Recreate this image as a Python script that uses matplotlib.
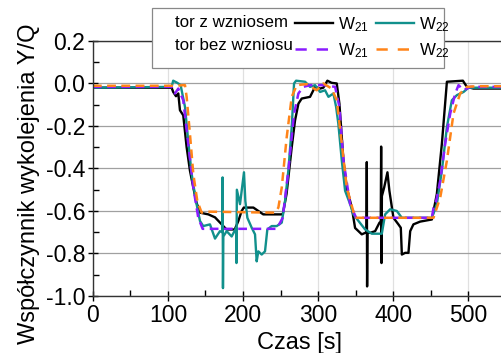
import matplotlib
matplotlib.use("Agg")
import matplotlib.pyplot as plt
from matplotlib.lines import Line2D
from matplotlib.patches import Rectangle
from matplotlib.ticker import MultipleLocator

plt.rcParams['font.family'] = ['Liberation Sans', 'DejaVu Sans']
plt.rcParams['mathtext.fontset'] = 'custom'
plt.rcParams['mathtext.rm'] = 'Liberation Sans'
plt.rcParams['mathtext.it'] = 'Liberation Sans:italic'

# tor z wzniosem, W21 (black)
w21_x = [0, 104.9, 107, 110.7, 113.8, 116, 120.4, 124.9, 129.3, 133.8, 138, 142.7, 153.8, 162.7,
         171.6, 178, 189, 193.8, 198.2, 201, 213.8, 220.4, 227, 252.9, 258, 264.9, 269.3, 273.8,
         278.2, 289.3, 296, 302.7, 307, 312.4, 318, 324.9, 328.4, 333.8, 338.2, 344.9, 349.3,
         353.8, 358.2, 362.7, 364.5, 364.9, 365.3, 365.8, 369.3, 376, 381.8, 383.5, 384, 384.5,
         385, 388, 392.4, 395, 400.4, 407, 410.2, 411.6, 416, 420.4, 422.7, 427, 436, 451.6,
         458.2, 464.9, 471.6, 492.9, 498.2, 507, 545]
w21_y = [-0.02, -0.02, -0.04, -0.06, -0.047, -0.126, -0.15, -0.30, -0.41, -0.49, -0.56, -0.608,
         -0.616, -0.63, -0.663, -0.687, -0.687, -0.647, -0.60, -0.584, -0.584, -0.60, -0.616,
         -0.616, -0.52, -0.30, -0.174, -0.095, -0.071, -0.063, -0.016, -0.024, -0.02, 0.013,
         0.003, 0.0, -0.095, -0.363, -0.49, -0.584, -0.68, -0.695, -0.71, -0.703, -0.70, -0.37,
         -0.955, -0.70, -0.703, -0.695, -0.655, -0.65, -0.297, -0.845, -0.53, -0.49, -0.418,
         -0.505, -0.632, -0.663, -0.679, -0.805, -0.797, -0.797, -0.695, -0.663, -0.65, -0.64,
         -0.52, -0.284, 0.008, 0.013, -0.016, -0.024, -0.024]

# tor z wzniosem, W22 (teal)
w22_x = [0, 104.9, 107, 112.4, 116.9, 122.7, 127, 131.6, 137.3, 142.7, 147, 156, 162.7, 169.3,
         172.4, 172.8, 173.3, 173.8, 178.2, 184.9, 190.8, 191.3, 191.8, 196, 201.3, 203.1, 205.8,
         211.6, 216, 218.2, 220.4, 224.9, 229.3, 232.4, 238.2, 244.9, 251.6, 256, 260.4, 264.9,
         268, 270.7, 282.7, 289.3, 296, 302.7, 309.3, 313.8, 320.4, 324, 327, 331.6, 336, 342.7,
         347, 353.8, 362.7, 371.6, 384.9, 389.3, 396, 404.9, 411.6, 451.6, 458.2, 464.9, 471.6,
         478.2, 484.9, 493.8, 500.4, 545]
w22_y = [-0.02, -0.016, 0.013, 0.003, -0.008, -0.11, -0.27, -0.426, -0.553, -0.647, -0.671,
         -0.663, -0.73, -0.695, -0.70, -0.442, -0.963, -0.72, -0.695, -0.72, -0.68, -0.845,
         -0.50, -0.568, -0.418, -0.553, -0.632, -0.679, -0.71, -0.837, -0.79, -0.805, -0.79,
         -0.687, -0.671, -0.671, -0.655, -0.553, -0.41, -0.205, 0.0, 0.013, 0.008, -0.016,
         -0.008, -0.04, -0.032, -0.063, -0.047, -0.11, -0.19, -0.363, -0.505, -0.568, -0.616,
         -0.647, -0.687, -0.707, -0.707, -0.616, -0.592, -0.60, -0.632, -0.632, -0.568, -0.41,
         -0.205, -0.079, -0.055, -0.04, -0.02, -0.02]

# tor bez wzniosu, W21 (purple dashed)
b21_x = [0, 104.9, 109.3, 113.8, 120.4, 127, 133.8, 140.4, 146.2, 244.9, 252.9, 260.4, 268,
         273.8, 280.4, 289.3, 307, 322.7, 328.4, 333.8, 342.7, 350.7, 451.6, 453.8, 457.3,
         462.7, 469.3, 476, 482.7, 487.1, 493.8, 502.7, 545]
b21_y = [-0.016, -0.016, -0.047, -0.024, -0.079, -0.284, -0.49, -0.632, -0.684, -0.684,
         -0.632, -0.41, -0.142, -0.047, -0.016, -0.008, -0.008, -0.016, -0.11, -0.363, -0.568,
         -0.632, -0.632, -0.584, -0.553, -0.458, -0.284, -0.142, -0.047, -0.008, -0.032,
         -0.016, -0.016]

# tor bez wzniosu, W22 (orange dashed)
b22_x = [0, 104.9, 122.7, 124.9, 129.3, 133.8, 139.1, 144.9, 149.3, 242.7, 247.1, 251.6,
         258.2, 264.9, 271.6, 284.9, 298.2, 307, 318, 324.9, 331.6, 338.2, 349.3, 453.8,
         462.7, 471.6, 480.4, 489.3, 498.2, 511.6, 545]
b22_y = [-0.011, -0.011, -0.008, -0.063, -0.237, -0.426, -0.553, -0.608, -0.603, -0.608,
         -0.584, -0.49, -0.253, -0.063, -0.008, -0.003, -0.032, 0.0, -0.024, -0.079, -0.284,
         -0.49, -0.632, -0.632, -0.537, -0.363, -0.142, -0.047, -0.016, -0.013, -0.013]

row_titles = ['tor z wzniosem', 'tor bez wzniosu']
series_labels = ['W$_{21}$', 'W$_{21}$', 'W$_{22}$', 'W$_{22}$']

black = 'black'
teal = '#11908c'
purple = '#8a1cff'
orange = '#ff8419'
dash = (0, (3.5, 2.2))

fig = plt.figure(figsize=(5.02, 3.53), dpi=100)
ax = fig.add_axes([0.185, 0.1615, 0.815, 0.7225])

ax.plot(w21_x, w21_y, color=black, lw=1.7)
ax.plot(w22_x, w22_y, color=teal, lw=1.7)
ax.plot(b21_x, b21_y, color=purple, lw=1.8, ls=dash)
ax.plot(b22_x, b22_y, color=orange, lw=1.8, ls=dash)

ax.set_xlim(0, 545)
ax.set_ylim(-1.0, 0.2)
ax.xaxis.set_major_locator(MultipleLocator(100))
ax.xaxis.set_minor_locator(MultipleLocator(50))
ax.yaxis.set_major_locator(MultipleLocator(0.2))
ax.yaxis.set_minor_locator(MultipleLocator(0.1))
ax.yaxis.set_major_formatter(matplotlib.ticker.FormatStrFormatter('%.1f'))
ax.tick_params(which='major', direction='inout', length=7, width=1, labelsize=16.5, pad=2)
ax.tick_params(which='minor', direction='in', length=4, width=1)
ax.grid(axis='y', which='major', color='#a0a0a0', lw=0.9)
ax.grid(axis='x', which='major', color='#e0e0e0', lw=0.9)
ax.set_axisbelow(True)
for s in ax.spines.values():
    s.set_color('#333333')
    s.set_linewidth(1.0)

ax.set_xlabel('Czas [s]', fontsize=17)
ax.set_ylabel('Współczynnik wykolejenia Y/Q', fontsize=17)
ax.xaxis.set_label_coords(0.506, -0.143)
ax.yaxis.set_label_coords(-0.13, 0.44)

# legend: white box, row titles on the left, line samples on the right
box = Rectangle((0.3028, 0.8074), 0.5817, 0.17, transform=fig.transFigure,
                facecolor='white', edgecolor='#888888', lw=0.9, zorder=4)
fig.add_artist(box)

common = dict(loc='upper left', borderaxespad=0, fontsize=12.2, borderpad=0.4,
              labelspacing=0.45, frameon=False)
blank = Line2D([], [], color='none')
fig.legend([blank, blank], row_titles, bbox_to_anchor=(0.3347, 0.977),
           handlelength=0, handletextpad=0, **common)
handles = [Line2D([], [], color=black, lw=1.7),
           Line2D([], [], color=purple, lw=1.8, ls=(0, (4.5, 4))),
           Line2D([], [], color=teal, lw=1.7),
           Line2D([], [], color=orange, lw=1.8, ls=(0, (4.5, 4)))]
fig.legend(handles, series_labels, ncol=2, bbox_to_anchor=(0.5737, 0.977),
           handlelength=2.25, handletextpad=0.3, columnspacing=0.4, **common)

fig.savefig('out.png', dpi=100)
